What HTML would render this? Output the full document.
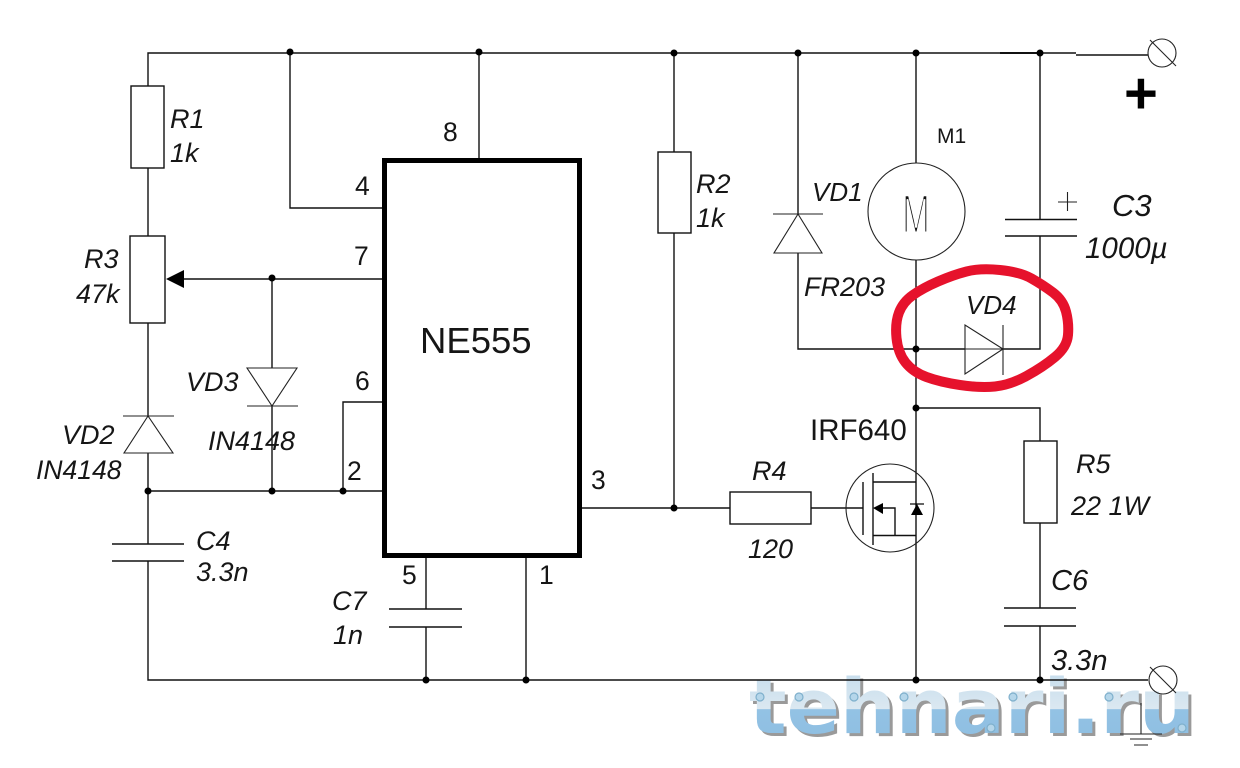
<!DOCTYPE html>
<html><head><meta charset="utf-8"><title>NE555 schematic</title>
<style>
html,body{margin:0;padding:0;background:#fff;width:1240px;height:768px;overflow:hidden}
svg{display:block}
.w{fill:none;stroke:#111;stroke-width:1.4}
.t{fill:none;stroke:#222;stroke-width:1.1}
text{font-family:"Liberation Sans",sans-serif;fill:#161616}
.i{font-style:italic;font-size:27px}
.p{font-size:26.500px}
.s{fill:#b5d6ea;stroke:#7fb0cc;stroke-width:1.2}
</style></head><body>
<svg width="1240" height="768" viewBox="0 0 1240 768" xmlns="http://www.w3.org/2000/svg">
<defs>
<linearGradient id="g" gradientUnits="userSpaceOnUse" x1="0" y1="668" x2="0" y2="736">
<stop offset="0" stop-color="#c4dcec"/><stop offset=".6" stop-color="#dbe8f1"/><stop offset=".61" stop-color="#93c2e4"/><stop offset="1" stop-color="#8fbfe2"/>
</linearGradient>
</defs>

<!-- watermark -->
<text x="752" y="736" font-size="76" font-weight="bold" textLength="446" lengthAdjust="spacingAndGlyphs" style="font-family:'DejaVu Sans',sans-serif;fill:#9a9a9a">tehnari.ru</text>
<text x="749" y="733" font-size="76" font-weight="bold" textLength="446" lengthAdjust="spacingAndGlyphs" style="font-family:'DejaVu Sans',sans-serif;fill:url(#g)">tehnari.ru</text>
<g class="s">
<circle class="s" cx="760" cy="697" r="4"/><circle class="s" cx="799" cy="697" r="4"/><circle class="s" cx="854" cy="697" r="4"/><circle class="s" cx="904" cy="697" r="4"/><circle class="s" cx="1013" cy="697" r="4"/><circle class="s" cx="1109" cy="697" r="4"/><circle class="s" cx="991" cy="728" r="4"/><circle class="s" cx="1182" cy="728" r="4"/>
</g>

<!-- rails and wires -->
<path class="w" d="M148 86V53H1076M1076 55H1148"/>
<path class="w" d="M148 168V236M148 323V416M148 453V544M148 561V680H1148"/>
<path class="w" d="M290 53V208H384M184 279H384M272 279V368M272 406V491M148 491H384M343 491V402H384"/>
<path class="w" d="M479 53V160M426 556V609M426 627V680M526 556V680"/>
<path class="w" d="M580 508H730M811 508H863M674 53V152M674 233V508"/>
<path class="w" d="M798 53V214M798 253V349H965M1003 349H1040V236M1040 219V53"/>
<path class="w" d="M916 53V163M916 260V680M916 408H1040V441M1040 523V608M1040 626V680"/>
<path d="M1000 53H1039" stroke="#111" stroke-width="2" fill="none"/>

<!-- resistors -->
<rect class="w" x="131" y="86" width="33" height="82"/>
<rect class="w" x="130" y="236" width="35" height="87"/>
<rect class="w" x="658" y="152" width="33" height="81"/>
<rect class="w" x="730" y="492" width="81" height="32"/>
<rect class="w" x="1024" y="441" width="33" height="82"/>
<path d="M166 279L184 270V288Z" fill="#000"/>

<!-- IC -->
<rect x="384.500" y="160.500" width="195" height="395" fill="none" stroke="#000" stroke-width="5"/>

<!-- diodes -->
<path class="t" d="M123 416H174M148 416L124 453H173Z"/>
<path class="t" d="M247 368H297L272 406ZM247 406H298"/>
<path class="t" d="M773 214H823M798 214L774 253H822Z"/>
<path class="t" d="M965 325V374L1003 349ZM1003 325V375M965 349H1003"/>

<!-- capacitors -->
<path class="w" d="M112 544H184M112 561H184M389 609H462M389 627H462M1005 219.500H1077M1005 236H1077M1004 608H1076M1004 626H1076"/>
<path class="t" d="M1058 202H1077M1067.500 192V211"/>

<!-- motor -->
<circle class="t" cx="916.500" cy="211.500" r="48.500"/>
<text transform="translate(902,233) scale(.6,1)" font-size="56" stroke="#fff" stroke-width="3" style="fill:#111">M</text>

<!-- MOSFET -->
<circle class="t" cx="890" cy="508" r="44"/>
<path class="w" d="M863 482V535M873 473V545M873 482H916M873 535.500H916M883 508H895V535.500"/>
<path d="M873 508L883 503V514Z" fill="#000"/>
<path d="M917 504L911 515H923Z" fill="#000"/>
<path d="M910 504H924" stroke="#000" stroke-width="1.2"/>

<!-- terminals -->
<circle class="t" cx="1162" cy="53" r="14"/><path class="t" d="M1150 40L1176 66"/>
<circle class="t" cx="1163" cy="680" r="14"/><path class="t" d="M1150 667L1176 693"/>
<path class="t" d="M1141 703V734M1120 734H1162M1130 739H1152M1134 745H1148"/>

<!-- nodes -->
<g fill="#000">
<circle cx="290" cy="52" r="3.500"/><circle cx="479" cy="52" r="3.500"/><circle cx="674" cy="53" r="3.500"/><circle cx="798" cy="53" r="3.500"/><circle cx="916" cy="53" r="3.500"/><circle cx="1040" cy="53" r="3.500"/>
<circle cx="272" cy="278" r="3.500"/><circle cx="148" cy="491" r="3.500"/><circle cx="272" cy="491" r="3.500"/><circle cx="343" cy="491" r="3.500"/>
<circle cx="674" cy="508" r="3.500"/><circle cx="916" cy="349" r="3.500"/><circle cx="916" cy="408" r="3.500"/>
<circle cx="426" cy="680" r="3.500"/><circle cx="526" cy="680" r="3.500"/><circle cx="916" cy="680" r="3.500"/><circle cx="1040" cy="680" r="3.500"/>
</g>

<!-- red ellipse -->
<path d="M1000 270Q1020 272 1031.500 278.500Q1043 285 1053 292.500Q1063 300 1066 311.500Q1069 323 1068 335Q1067 347 1055 357Q1043 367 1026.500 376Q1010 385 995 386.500Q980 388 960 385Q940 382 926.500 377Q913 372 905.500 362.500Q898 353 896.500 338Q895 323 899 312.500Q903 302 913 295Q923 288 938 281.500Q953 275 966.500 271.500Q980 268 1000 270Z" fill="none" stroke="#e6122c" stroke-width="10" stroke-linejoin="round"/>

<!-- labels -->
<text class="i" x="170" y="128">R1</text><text class="i" x="170" y="162">1k</text>
<text class="i" x="696" y="193">R2</text><text class="i" x="696" y="227">1k</text>
<text class="i" x="84" y="268">R3</text><text class="i" x="76" y="303">47k</text>
<text class="i" x="186" y="391">VD3</text><text class="i" x="208" y="450">IN4148</text>
<text class="i" x="62" y="444">VD2</text><text class="i" x="36" y="479" style="font-size:26.500px">IN4148</text>
<text class="i" x="196" y="550">C4</text><text class="i" x="196" y="581">3.3n</text>
<text class="i" x="332" y="610">C7</text><text class="i" x="333" y="644">1n</text>
<text class="i" x="752" y="480">R4</text><text class="i" x="748" y="558">120</text>
<text class="i" x="812" y="201" style="font-size:26px">VD1</text><text class="i" x="804" y="296">FR203</text>
<text class="i" x="966" y="314" style="font-size:26px">VD4</text>
<text class="i" x="1112" y="216" style="font-size:31px">C3</text><text class="i" x="1085" y="258" style="font-size:29.500px">1000µ</text>
<text class="i" x="1076" y="473">R5</text><text class="i" x="1071" y="515">22 1W</text>
<text class="i" x="1051" y="590" style="font-size:29px">C6</text><text class="i" x="1051" y="670" style="font-size:29px">3.3n</text>
<text x="937" y="143" font-size="21">M1</text>
<text x="810" y="440" font-size="29.500">IRF640</text>
<text x="420" y="353" font-size="36.500">NE555</text>
<text class="p" x="443" y="141">8</text><text class="p" x="355" y="195">4</text><text class="p" x="354" y="265">7</text>
<text class="p" x="355" y="390">6</text><text class="p" x="347" y="480">2</text><text class="p" x="591" y="489">3</text>
<text class="p" x="402" y="584">5</text><text class="p" x="539" y="584">1</text>
<text x="1124" y="113" font-size="58" font-weight="bold" style="fill:#000">+</text>
</svg>
</body></html>
